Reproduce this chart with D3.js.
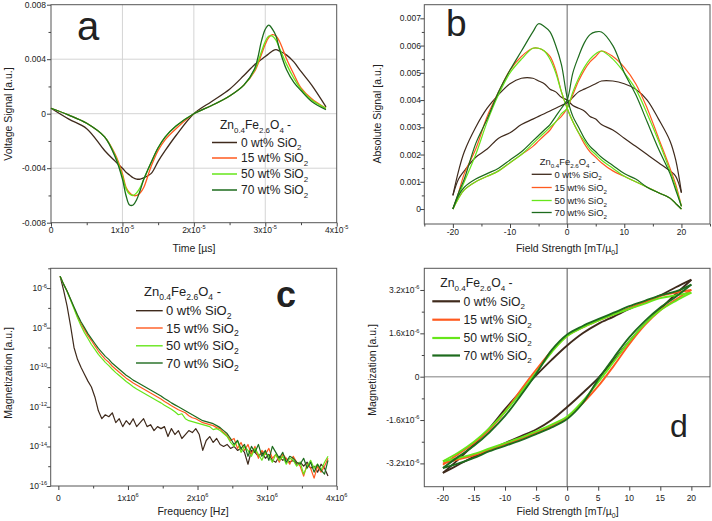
<!DOCTYPE html>
<html><head><meta charset="utf-8">
<script src="https://cdn.jsdelivr.net/npm/d3@7"></script>
<style>
body{margin:0;background:#fff}
svg{display:block}
text{font-family:"Liberation Sans",Arial,sans-serif;fill:#222}
</style></head>
<body><svg id="chart" width="712" height="521"></svg>
<script>
// ---------- shared ----------
const seriesLabels = ["0 wt% SiO", "15 wt% SiO", "50 wt% SiO", "70 wt% SiO"]; // followed by subscript 2
const seriesColors = ["#3f2a1c", "#ff5a1f", "#66e61a", "#1d6b1d"];

// ---------- panel a : voltage signal vs time (time in units of 1e-5) ----------
const timeA = [0,0.25,0.5,0.75,0.9,1.0,1.05,1.1,1.15,1.2,1.25,1.3,1.4,1.5,1.6,1.75,2.0,2.25,2.5,2.7,2.85,2.95,3.0,3.05,3.1,3.15,3.2,3.3,3.4,3.5,3.65,3.85];
const voltA0  = [0.0004,-0.0004,-0.0011,-0.0027,-0.0035,-0.0040,-0.0043,-0.0045,-0.0047,-0.0048,-0.0048,-0.0047,-0.0044,-0.0035,-0.0027,-0.0016,0.0000,0.0009,0.0018,0.0028,0.0036,0.0040,0.0042,0.0044,0.0046,0.0047,0.0046,0.0043,0.0038,0.0031,0.0021,0.0005];
const voltA15 = [0.0004,-0.0001,-0.0007,-0.0017,-0.0030,-0.0044,-0.0054,-0.0058,-0.0060,-0.0060,-0.0058,-0.0054,-0.0039,-0.0027,-0.0019,-0.0011,0.0000,0.0006,0.0013,0.0021,0.0031,0.0044,0.0051,0.0056,0.0058,0.0057,0.0053,0.0040,0.0029,0.0019,0.0011,0.0004];
const voltA50 = [0.0004,-0.0001,-0.0007,-0.0017,-0.0031,-0.0046,-0.0055,-0.0059,-0.0060,-0.0058,-0.0054,-0.0048,-0.0036,-0.0025,-0.0017,-0.0009,0.0000,0.0006,0.0013,0.0021,0.0032,0.0046,0.0053,0.0057,0.0057,0.0054,0.0048,0.0036,0.0026,0.0018,0.0010,0.0004];
const voltA70 = [0.0004,-0.0001,-0.0007,-0.0017,-0.0032,-0.0048,-0.0060,-0.0067,-0.0067,-0.0063,-0.0056,-0.0048,-0.0036,-0.0025,-0.0017,-0.0009,0.0000,0.0006,0.0013,0.0021,0.0033,0.0054,0.0062,0.0065,0.0062,0.0057,0.0047,0.0032,0.0023,0.0017,0.0009,0.0003];
const ticksAX = [0,1,2,3,4];
const tickLabelsAX = [["0",""],["1x10","-5"],["2x10","-5"],["3x10","-5"],["4x10","-5"]];
const ticksAY = [0.008,0.004,0,-0.004,-0.008];
const tickLabelsAY = ["0.008","0.004","0","-0.004","-0.008"];

// ---------- panel b : absolute signal vs field, two sweep branches ----------
const fieldB = [-20,-19,-18,-16,-14,-12,-10,-8,-6,-5,-4,-3,-2,-1,0,1,2,3,4,5,6,8,10,12,14,16,18,19,20];
const absB0a  = [0.0005,0.0014,0.0021,0.0030,0.0037,0.0042,0.0046,0.0048,0.0048,0.0047,0.0046,0.0044,0.0043,0.0041,0.0040,0.0038,0.0037,0.0036,0.0034,0.0033,0.0031,0.0029,0.0026,0.0023,0.0020,0.0017,0.0014,0.0012,0.0006];
const absB0b  = [0.0005,0.0011,0.0014,0.0019,0.0022,0.0026,0.0028,0.0031,0.0033,0.0034,0.0035,0.0036,0.0037,0.0038,0.0039,0.0041,0.0043,0.0044,0.0045,0.0046,0.0047,0.0047,0.0046,0.0044,0.0040,0.0033,0.0025,0.0018,0.0006];
const absB15a = [0.0000,0.0006,0.0013,0.0022,0.0034,0.0043,0.0051,0.0056,0.0059,0.0059,0.0058,0.0056,0.0051,0.0043,0.0037,0.0032,0.0028,0.0024,0.0021,0.0019,0.0017,0.0014,0.0012,0.0010,0.0008,0.0006,0.0004,0.0002,0.0000];
const absB15b = [0.0000,0.0004,0.0007,0.0010,0.0012,0.0014,0.0017,0.0020,0.0023,0.0025,0.0027,0.0029,0.0032,0.0034,0.0037,0.0042,0.0047,0.0051,0.0054,0.0056,0.0058,0.0056,0.0052,0.0046,0.0037,0.0026,0.0015,0.0009,0.0001];
const absB50a = [0.0000,0.0005,0.0010,0.0020,0.0032,0.0042,0.0050,0.0055,0.0059,0.0059,0.0058,0.0055,0.0050,0.0043,0.0037,0.0032,0.0028,0.0025,0.0022,0.0020,0.0018,0.0015,0.0012,0.0010,0.0008,0.0006,0.0004,0.0002,0.0000];
const absB50b = [0.0000,0.0004,0.0007,0.0010,0.0012,0.0014,0.0017,0.0020,0.0024,0.0026,0.0028,0.0030,0.0032,0.0035,0.0037,0.0043,0.0048,0.0052,0.0055,0.0057,0.0058,0.0055,0.0050,0.0044,0.0035,0.0025,0.0014,0.0008,0.0001];
const absB70a = [0.0000,0.0006,0.0011,0.0024,0.0033,0.0043,0.0051,0.0058,0.0065,0.0068,0.0067,0.0065,0.0060,0.0053,0.0041,0.0034,0.0030,0.0026,0.0023,0.0021,0.0019,0.0016,0.0013,0.0011,0.0008,0.0006,0.0004,0.0002,0.0000];
const absB70b = [0.0000,0.0005,0.0008,0.0011,0.0013,0.0015,0.0018,0.0021,0.0025,0.0027,0.0029,0.0031,0.0034,0.0037,0.0040,0.0050,0.0056,0.0061,0.0064,0.0065,0.0065,0.0060,0.0050,0.0042,0.0032,0.0022,0.0013,0.0007,0.0001];
const ticksBX = [-20,-10,0,10,20];
const tickLabelsBX = ["-20","-10","0","10","20"];
const ticksBY = [0,0.001,0.002,0.003,0.004,0.005,0.006,0.007];
const tickLabelsBY = ["0","0.001","0.002","0.003","0.004","0.005","0.006","0.007"];

// ---------- panel c : magnetization spectrum (freq in units of 1e6 Hz, values as log10) ----------
const freqC = [0.025,0.075,0.125,0.175,0.225,0.275,0.325,0.375,0.425,0.475,
0.525,0.575,0.625,0.675,0.725,0.775,0.825,0.875,0.925,0.975,
1.025,1.075,1.125,1.175,1.225,1.275,1.325,1.375,1.425,1.475,
1.525,1.575,1.625,1.675,1.725,1.775,1.825,1.875,1.925,1.975,
2.025,2.075,2.125,2.175,2.225,2.275,2.325,2.375,2.425,2.475,
2.525,2.575,2.625,2.675,2.725,2.775,2.825,2.875,2.925,2.975,
3.025,3.075,3.125,3.175,3.225,3.275,3.325,3.375,3.425,3.475,
3.525,3.575,3.625,3.675,3.725,3.775,3.825,3.875];
const logMagC0 = [-5.4,-6.1,-6.9,-7.9,-9.0,-9.6,-10.0,-10.35,-10.7,-11.0,
-11.5,-12.2,-12.6,-12.4,-12.5,-12.3,-12.8,-12.6,-13.0,-12.7,
-12.9,-12.6,-13.0,-12.8,-12.6,-13.0,-12.9,-13.2,-13.0,-13.1,
-13.0,-13.5,-13.1,-13.4,-13.2,-13.6,-13.4,-13.2,-13.3,-13.1,
-13.4,-14.2,-13.7,-13.5,-13.8,-13.6,-13.9,-14.0,-13.9,-14.1,
-14.0,-14.2,-14.1,-14.3,-14.9,-14.2,-14.3,-14.5,-14.3,-14.6,
-14.4,-14.7,-14.8,-14.5,-14.7,-14.6,-14.8,-14.7,-14.9,-14.8,
-15.0,-14.8,-15.1,-15.0,-15.3,-14.9,-15.1,-15.5];
const logMagC15 = [-5.4,-5.8,-6.15,-6.57,-7.0,-7.42,-7.8,-8.1,-8.4,-8.65,
-8.92,-9.18,-9.4,-9.6,-9.75,-9.95,-10.1,-10.25,-10.4,-10.55,
-10.67,-10.8,-10.9,-11.0,-11.1,-11.2,-11.3,-11.4,-11.5,-11.6,
-11.73,-11.83,-11.95,-12.05,-12.15,-12.22,-12.3,-12.45,-12.55,-12.6,
-12.7,-12.8,-12.85,-12.9,-12.95,-13.05,-13.1,-13.3,-13.45,-13.7,
-13.6,-14.1,-13.8,-14.2,-13.9,-14.4,-14.0,-14.6,-14.2,-14.4,
-14.1,-14.6,-14.4,-14.8,-14.4,-14.6,-14.9,-14.5,-14.8,-15.0,
-15.5,-14.9,-15.1,-15.6,-15.0,-15.3,-15.0,-14.6];
const logMagC50 = [-5.4,-5.8,-6.17,-6.6,-7.05,-7.5,-7.9,-8.25,-8.55,-8.85,
-9.1,-9.35,-9.55,-9.75,-9.92,-10.1,-10.27,-10.42,-10.57,-10.72,
-10.85,-10.98,-11.1,-11.2,-11.3,-11.4,-11.5,-11.6,-11.7,-11.8,
-11.92,-12.02,-12.12,-12.25,-12.4,-12.35,-12.6,-12.7,-12.75,-12.8,
-12.85,-12.9,-12.95,-13.0,-13.15,-13.1,-13.2,-13.35,-13.5,-13.8,
-14.0,-13.7,-14.3,-14.0,-14.2,-14.5,-14.1,-14.4,-14.7,-14.3,
-14.5,-14.8,-14.4,-14.7,-14.5,-14.9,-14.6,-14.7,-15.0,-14.8,
-15.4,-15.0,-14.7,-15.1,-14.9,-15.2,-14.8,-14.5];
const logMagC70 = [-5.4,-5.8,-6.15,-6.55,-6.95,-7.35,-7.7,-8.0,-8.3,-8.55,
-8.8,-9.05,-9.25,-9.45,-9.6,-9.8,-9.95,-10.1,-10.25,-10.4,
-10.52,-10.65,-10.75,-10.85,-10.95,-11.05,-11.15,-11.25,-11.35,-11.45,
-11.58,-11.68,-11.8,-11.9,-12.0,-12.1,-12.2,-12.3,-12.4,-12.5,
-12.6,-12.7,-12.75,-12.8,-12.85,-12.95,-13.05,-13.2,-13.35,-13.6,
-13.9,-13.7,-14.1,-13.9,-14.5,-14.0,-14.3,-13.9,-14.5,-14.2,
-14.7,-14.0,-14.3,-14.6,-14.3,-14.8,-14.5,-14.6,-14.8,-14.9,
-14.6,-15.1,-14.8,-15.3,-14.9,-15.2,-15.4,-14.7];
const ticksCX = [0,1,2,3,4];
const tickLabelsCX = [["0",""],["1x10","6"],["2x10","6"],["3x10","6"],["4x10","6"]];
const ticksCY = [-16,-14,-12,-10,-8,-6];
const tickLabelsCY = [["10","-16"],["10","-14"],["10","-12"],["10","-10"],["10","-8"],["10","-6"]];

// ---------- panel d : hysteresis loops (magnetization in units of 1e-6) ----------
const fieldD = [-20,-17.5,-15,-12.5,-10,-7.5,-5,-2.5,0,2.5,5,7.5,10,12.5,15,17.5,20];
const magD0upper  = [-3.55,-3.05,-2.5,-1.9,-1.2,-0.55,0.05,0.62,1.15,1.6,1.95,2.22,2.5,2.75,3.0,3.3,3.58];
const magD0lower  = [-3.55,-3.25,-2.95,-2.7,-2.45,-2.2,-1.95,-1.6,-1.12,-0.6,-0.05,0.6,1.3,1.95,2.5,3.05,3.58];
const magD15upper = [-3.25,-2.85,-2.45,-1.95,-1.3,-0.5,0.25,0.95,1.5,1.82,2.07,2.3,2.53,2.75,2.97,3.1,3.2];
const magD15lower = [-3.2,-3.05,-2.9,-2.7,-2.5,-2.3,-2.07,-1.82,-1.5,-0.98,-0.35,0.4,1.2,1.9,2.45,2.85,3.2];
const magD50upper = [-3.12,-2.8,-2.4,-1.9,-1.3,-0.6,0.15,0.9,1.5,1.82,2.07,2.3,2.5,2.7,2.9,3.0,3.1];
const magD50lower = [-3.12,-3.0,-2.85,-2.65,-2.45,-2.25,-2.02,-1.77,-1.47,-0.9,-0.2,0.55,1.3,1.95,2.45,2.8,3.1];
const magD70upper = [-3.37,-2.95,-2.55,-2.05,-1.45,-0.7,0.1,0.98,1.56,1.87,2.12,2.36,2.6,2.8,3.0,3.15,3.4];
const magD70lower = [-3.37,-3.2,-3.0,-2.75,-2.55,-2.35,-2.12,-1.87,-1.56,-0.98,-0.1,0.7,1.45,2.05,2.55,2.95,3.4];
const ticksDX = [-20,-15,-10,-5,0,5,10,15,20];
const tickLabelsDX = ["-20","-15","-10","-5","0","5","10","15","20"];
const ticksDY = [3.2,1.6,0,-1.6,-3.2];
const tickLabelsDY = [["3.2x10","-6"],["1.6x10","-6"],["0",""],["-1.6x10","-6"],["-3.2x10","-6"]];

// ================= drawing =================
const svg = d3.select("#chart");

function rich(parent, x, y, parts, size, anchor, weight) {
  const t = parent.append("text").attr("x", x).attr("y", y)
    .attr("font-size", size).attr("text-anchor", anchor || "start");
  if (weight) t.attr("font-weight", weight);
  let shift = 0;
  parts.forEach(([s, m]) => {
    if (!s) return;
    const target = m === "sub" ? size * 0.3 : m === "sup" ? -size * 0.42 : 0;
    t.append("tspan").attr("dy", target - shift).attr("font-size", m ? size * 0.66 : size).text(s);
    shift = target;
  });
  return t;
}

function frame(x, y) {
  const [x0, x1] = x.range(), [y0, y1] = y.range();
  svg.append("rect").attr("x", Math.min(x0, x1)).attr("y", Math.min(y0, y1))
    .attr("width", Math.abs(x1 - x0)).attr("height", Math.abs(y1 - y0))
    .attr("fill", "none").attr("stroke", "#555").attr("stroke-width", 1);
}

function ticks(x, y, xMajor, xMinor, yMajor, yMinor) {
  const yb = y.range()[0], xl = x.range()[0];
  const add = (axis, tr) => {
    const g = svg.append("g").attr("transform", tr).call(axis);
    g.select(".domain").remove();
    g.selectAll("line").attr("stroke", "#444");
  };
  add(d3.axisBottom(x).tickValues(xMajor).tickSize(4).tickFormat(""), `translate(0,${yb})`);
  add(d3.axisBottom(x).tickValues(xMinor).tickSize(2.5).tickFormat(""), `translate(0,${yb})`);
  add(d3.axisLeft(y).tickValues(yMajor).tickSize(4).tickFormat(""), `translate(${xl},0)`);
  add(d3.axisLeft(y).tickValues(yMinor).tickSize(2.5).tickFormat(""), `translate(${xl},0)`);
}

function legend(x0, x1, xt, yTitle, rows, size, sw) {
  rich(svg, x0 + 8, yTitle + size * 0.35, [["Zn"],["0.4","sub"],["Fe"],["2.6","sub"],["O"],["4","sub"],[" -"]], size);
  rows.forEach((yy, i) => {
    svg.append("line").attr("x1", x0).attr("x2", x1).attr("y1", yy).attr("y2", yy)
      .attr("stroke", seriesColors[i]).attr("stroke-width", sw);
    rich(svg, xt, yy + size * 0.35, [[seriesLabels[i]], ["2", "sub"]], size);
  });
}

function axisTitle(x, y, parts, size, rotate) {
  const t = rich(svg, rotate ? 0 : x, rotate ? 0 : y, parts, size, "middle");
  if (rotate) t.attr("transform", `translate(${x},${y}) rotate(-90)`);
}

// ---------- panel a ----------
{
  const x = d3.scaleLinear().domain([0, 4]).range([51, 336.7]);
  const y = d3.scaleLinear().domain([-0.008, 0.008]).range([222.7, 4.7]);
  const grid = svg.append("g").attr("stroke", "#d4d4d4").attr("stroke-width", 1);
  [1, 2, 3].forEach(v => grid.append("line").attr("x1", x(v)).attr("x2", x(v)).attr("y1", y.range()[0]).attr("y2", y.range()[1]));
  [-0.004, 0, 0.004].forEach(v => grid.append("line").attr("y1", y(v)).attr("y2", y(v)).attr("x1", x.range()[0]).attr("x2", x.range()[1]));
  frame(x, y);
  ticks(x, y, ticksAX, [0.5, 1.5, 2.5, 3.5], ticksAY, [0.006, 0.002, -0.002, -0.006]);
  ticksAX.forEach((v, i) => rich(svg, x(v), 233, [[tickLabelsAX[i][0]], [tickLabelsAX[i][1], "sup"]], 8.5, "middle"));
  ticksAY.forEach((v, i) => rich(svg, 46, y(v) + 3, [[tickLabelsAY[i]]], 8.5, "end"));
  const line = d3.line().x((d, i) => x(timeA[i])).y(d => y(d)).curve(d3.curveCatmullRom.alpha(0.5));
  [voltA0, voltA15, voltA50, voltA70].forEach((s, k) =>
    svg.append("path").attr("d", line(s)).attr("fill", "none").attr("stroke", seriesColors[k]).attr("stroke-width", 1.3));
  axisTitle(12, 114, [["Voltage Signal [a.u.]"]], 10.5, true);
  axisTitle(194, 252, [["Time [µs]"]], 10.5, false);
  svg.append("text").attr("x", 77).attr("y", 40).attr("font-size", 40).text("a");
  legend(212, 237, 241, 125, [142.5, 158, 174, 190], 12, 1.5);
}

// ---------- panel b ----------
{
  const x = d3.scaleLinear().domain([-25, 25]).range([424.3, 710]);
  const y = d3.scaleLinear().domain([-0.00055, 0.0075]).range([224, 4.7]);
  svg.append("line").attr("x1", x(0)).attr("x2", x(0)).attr("y1", y.range()[0]).attr("y2", y.range()[1])
    .attr("stroke", "#666").attr("stroke-width", 1);
  frame(x, y);
  ticks(x, y, ticksBX, [-25, -15, -5, 5, 15, 25], ticksBY, [0.0005, 0.0015, 0.0025, 0.0035, 0.0045, 0.0055, 0.0065]);
  ticksBX.forEach((v, i) => rich(svg, x(v), 235, [[tickLabelsBX[i]]], 8.5, "middle"));
  ticksBY.forEach((v, i) => rich(svg, 421, y(v) + 3, [[tickLabelsBY[i]]], 8.5, "end"));
  const line = d3.line().x((d, i) => x(fieldB[i])).y(d => y(d)).curve(d3.curveCatmullRom.alpha(0.5));
  [[absB0a, absB0b], [absB15a, absB15b], [absB50a, absB50b], [absB70a, absB70b]].forEach((pair, k) =>
    pair.forEach(s => svg.append("path").attr("d", line(s)).attr("fill", "none").attr("stroke", seriesColors[k]).attr("stroke-width", 1.2)));
  axisTitle(381, 114, [["Absolute Signal [a.u.]"]], 10.5, true);
  axisTitle(567, 252, [["Field Strength [mT/µ"], ["0", "sub"], ["]"]], 10.5, false);
  svg.append("text").attr("x", 446).attr("y", 36).attr("font-size", 37).text("b");
  legend(531.7, 551.7, 554.5, 161.5, [174.3, 187.5, 200.5, 212.5], 9.4, 1.3);
}

// ---------- panel c ----------
{
  const x = d3.scaleLinear().domain([-0.11, 4]).range([50.7, 336.7]);
  const y = d3.scaleLog().domain([1e-16, 1e-5]).range([486, 268.3]);
  frame(x, y);
  ticks(x, y, ticksCX, [0.5, 1.5, 2.5, 3.5], ticksCY.map(e => Math.pow(10, e)), [-15, -13, -11, -9, -7, -5].map(e => Math.pow(10, e)));
  ticksCX.forEach((v, i) => rich(svg, x(v), 501, [[tickLabelsCX[i][0]], [tickLabelsCX[i][1], "sup"]], 8.5, "middle"));
  ticksCY.forEach((v, i) => rich(svg, 47, y(Math.pow(10, v)) + 3, [[tickLabelsCY[i][0]], [tickLabelsCY[i][1], "sup"]], 8.5, "end"));
  const line = d3.line().x((d, i) => x(freqC[i])).y(d => y(Math.pow(10, d)));
  [logMagC0, logMagC15, logMagC50, logMagC70].forEach((s, k) =>
    svg.append("path").attr("d", line(s)).attr("fill", "none").attr("stroke", seriesColors[k]).attr("stroke-width", 1.2).attr("stroke-linejoin", "round"));
  axisTitle(12, 373, [["Magnetization [a.u.]"]], 10.5, true);
  axisTitle(193, 515, [["Frequency [Hz]"]], 10.5, false);
  svg.append("text").attr("x", 276).attr("y", 307).attr("font-size", 36).attr("font-weight", "bold").text("c");
  legend(136, 162.7, 166, 291.5, [310.7, 328, 345.8, 363], 13, 1.4);
}

// ---------- panel d ----------
{
  const x = d3.scaleLinear().domain([-23, 23]).range([424.3, 710]);
  const y = d3.scaleLinear().domain([-4.06, 4.0]).range([486.7, 268.3]);
  svg.append("line").attr("y1", y(0)).attr("y2", y(0)).attr("x1", x.range()[0]).attr("x2", x.range()[1])
    .attr("stroke", "#aaa").attr("stroke-width", 1.5);
  svg.append("line").attr("x1", x(0)).attr("x2", x(0)).attr("y1", y.range()[0]).attr("y2", y.range()[1])
    .attr("stroke", "#555").attr("stroke-width", 1);
  frame(x, y);
  ticks(x, y, ticksDX, [], ticksDY, [2.4, 0.8, -0.8, -2.4]);
  ticksDX.forEach((v, i) => rich(svg, x(v), 501, [[tickLabelsDX[i]]], 8.5, "middle"));
  ticksDY.forEach((v, i) => rich(svg, 419.5, y(v) + 3, [[tickLabelsDY[i][0]], [tickLabelsDY[i][1], "sup"]], 8.5, "end"));
  const upLine = d3.line().x((d, i) => x(fieldD[i])).y(d => y(d)).curve(d3.curveCatmullRom.alpha(0.5));
  [[magD0upper, magD0lower], [magD15upper, magD15lower], [magD50upper, magD50lower], [magD70upper, magD70lower]].forEach((pair, k) =>
    pair.forEach(s => svg.append("path").attr("d", upLine(s)).attr("fill", "none").attr("stroke", seriesColors[k]).attr("stroke-width", 1.9)));
  axisTitle(376, 370, [["Magnetization [a.u.]"]], 10.5, true);
  axisTitle(567.5, 515, [["Field Strength [mT/µ"], ["0", "sub"], ["]"]], 10.5, false);
  svg.append("text").attr("x", 670).attr("y", 437).attr("font-size", 32).text("d");
  legend(432.3, 460, 463.5, 283, [301.3, 319.7, 338, 355.5], 12.2, 2.2);
}
</script>
</body></html>
